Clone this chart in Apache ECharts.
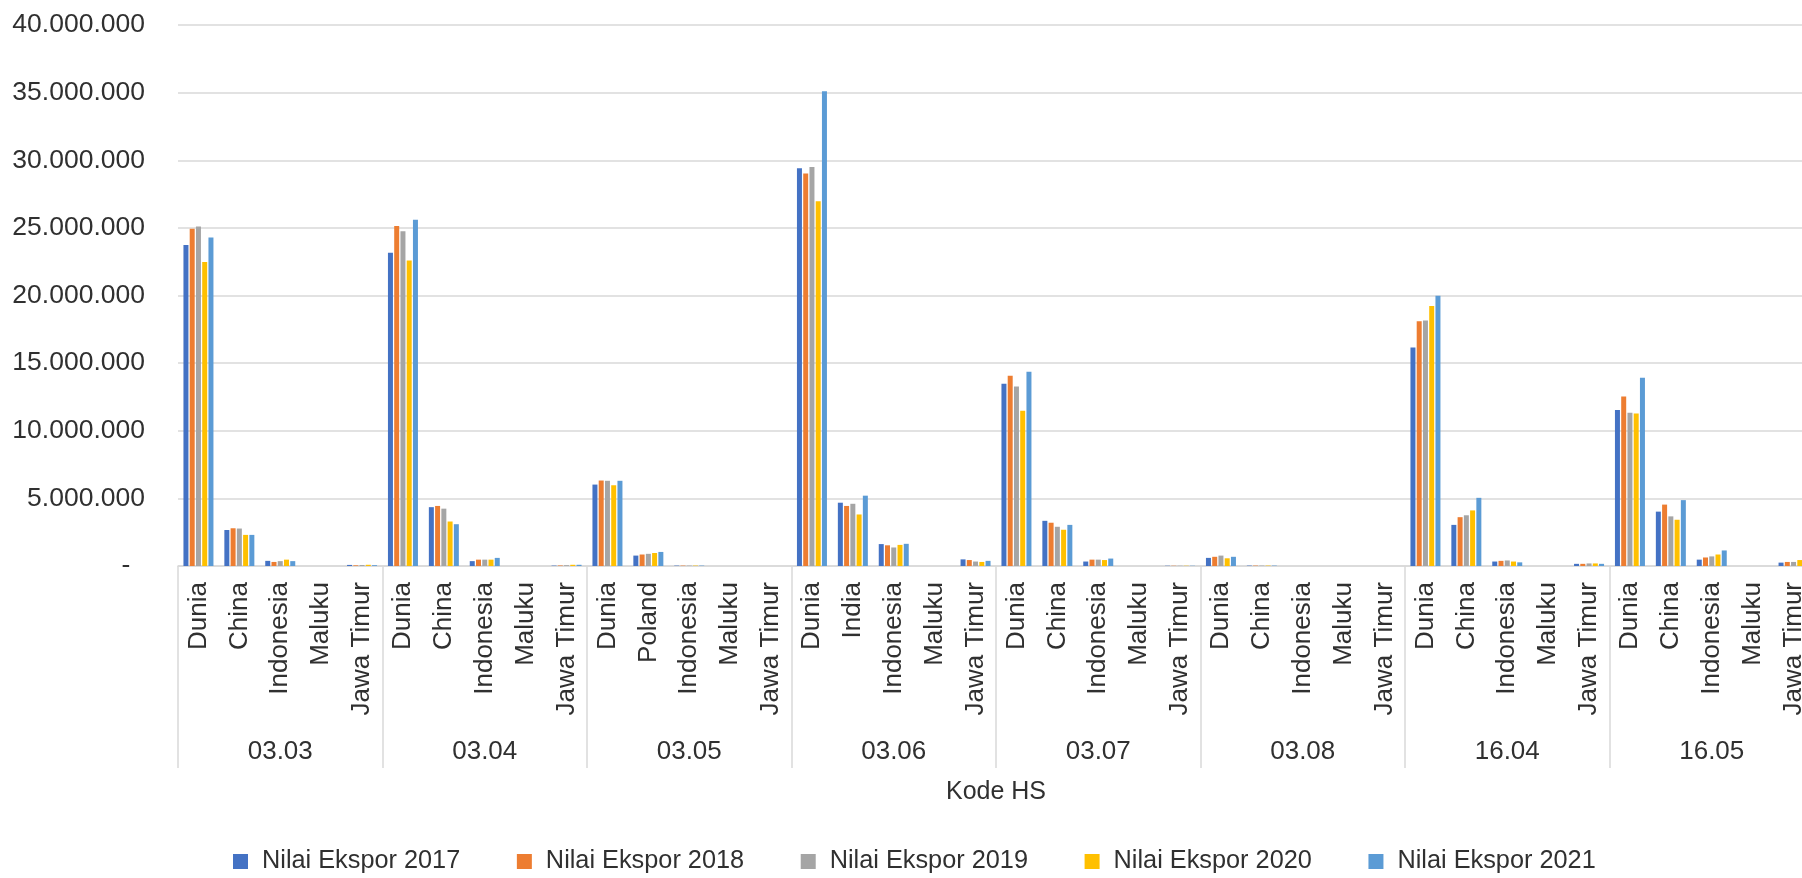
<!DOCTYPE html>
<html><head><meta charset="utf-8">
<script src="https://cdn.jsdelivr.net/npm/echarts@6/dist/echarts.min.js"></script>
<style>html,body{margin:0;padding:0;background:#fff;overflow:hidden;width:1802px;height:878px}#c{width:1830px;height:878px}</style>
</head><body><div id="c"></div>
<script>
const groups = ['03.03','03.04','03.05','03.06','03.07','03.08','16.04','16.05'];
const categories = [
  'Dunia','China','Indonesia','Maluku','Jawa Timur',
  'Dunia','China','Indonesia','Maluku','Jawa Timur',
  'Dunia','Poland','Indonesia','Maluku','Jawa Timur',
  'Dunia','India','Indonesia','Maluku','Jawa Timur',
  'Dunia','China','Indonesia','Maluku','Jawa Timur',
  'Dunia','China','Indonesia','Maluku','Jawa Timur',
  'Dunia','China','Indonesia','Maluku','Jawa Timur',
  'Dunia','China','Indonesia','Maluku','Jawa Timur'
];
const seriesNames = ['Nilai Ekspor 2017','Nilai Ekspor 2018','Nilai Ekspor 2019','Nilai Ekspor 2020','Nilai Ekspor 2021'];
const yTicks = [0,5000000,10000000,15000000,20000000,25000000,30000000,35000000,40000000];
const v2017 = [
  23740000,2660000,380000,0,80000,
  23160000,4350000,360000,0,30000,
  6020000,770000,30000,0,0,
  29400000,4680000,1620000,0,490000,
  13470000,3340000,330000,0,20000,
  600000,30000,0,0,0,
  16150000,3040000,330000,0,160000,
  11530000,4020000,470000,0,250000
];
const v2018 = [
  24940000,2790000,300000,0,50000,
  25130000,4440000,470000,0,40000,
  6320000,850000,30000,0,0,
  29020000,4440000,1530000,0,440000,
  14070000,3200000,470000,0,20000,
  680000,30000,0,0,0,
  18100000,3610000,380000,0,160000,
  12540000,4540000,630000,0,300000
];
const v2019 = [
  25100000,2770000,360000,0,70000,
  24750000,4240000,470000,0,60000,
  6300000,900000,30000,0,0,
  29510000,4600000,1370000,0,330000,
  13280000,2900000,470000,0,20000,
  770000,30000,0,0,0,
  18150000,3750000,410000,0,190000,
  11330000,3670000,710000,0,300000
];
const v2020 = [
  22480000,2300000,470000,0,90000,
  22590000,3290000,470000,0,90000,
  5970000,960000,30000,0,0,
  26970000,3810000,1560000,0,300000,
  11470000,2680000,440000,0,20000,
  570000,30000,0,0,0,
  19220000,4110000,330000,0,190000,
  11280000,3420000,850000,0,440000
];
const v2021 = [
  24280000,2300000,360000,0,60000,
  25600000,3090000,600000,0,90000,
  6300000,1040000,30000,0,0,
  35100000,5200000,1640000,0,380000,
  14370000,3040000,550000,0,20000,
  680000,30000,0,0,0,
  19990000,5040000,270000,0,160000,
  13910000,4870000,1150000,0,550000
];
const colors = ['#4472C4','#ED7D31','#A5A5A5','#FFC000','#5B9BD5'];
const values = [v2017,v2018,v2019,v2020,v2021];

const txt = '#303030';
const fontFamily = '"Liberation Sans", Arial, sans-serif';
function fmt(v){ return v === 0 ? '-  ' : String(v).replace(/\B(?=(\d{3})+(?!\d))/g,'.'); }

const chart = echarts.init(document.getElementById('c'), null, {renderer:'canvas'});
chart.setOption({
  animation:false,
  color: colors,
  textStyle:{fontFamily:fontFamily, color:txt},
  grid:{left:178, top:25, right:16, height:541, containLabel:false},
  legend:{
    data: seriesNames, left:228, top:844, icon:'rect', itemWidth:15, itemHeight:15,
    itemGap:56.6, textStyle:{fontSize:25.3, color:txt, fontFamily:fontFamily, padding:[0,0,0,9]}
  },
  xAxis:[
    {type:'category', data:categories, position:'bottom',
     axisLine:{show:true, lineStyle:{color:'#d9d9d9', width:1.5}},
     axisTick:{show:false},
     axisLabel:{interval:0, rotate:90, margin:16, fontSize:26, color:txt, fontFamily:fontFamily}
    },
    {type:'category', data:groups, position:'bottom', gridIndex:0,
     axisLine:{show:false},
     axisTick:{show:true, interval:0, length:202, lineStyle:{color:'#d9d9d9', width:1.5}},
     axisLabel:{interval:0, margin:173, fontSize:26, color:txt, fontFamily:fontFamily}
    }
  ],
  yAxis:{type:'value', min:yTicks[0], max:yTicks[yTicks.length-1], interval:yTicks[1]-yTicks[0],
    axisLine:{show:false}, axisTick:{show:false},
    splitLine:{lineStyle:{color:'#d9d9d9', width:1.5}},
    axisLabel:{formatter:fmt, margin:33, fontSize:26.5, color:txt, fontFamily:fontFamily}
  },
  graphic:[{type:'text', x:996, y:792, style:{text:'Kode HS', fill:txt, font:'25px '+fontFamily, textAlign:'center', textVerticalAlign:'middle'}}],
  series: seriesNames.map((n,i)=>({
    name:n, type:'bar', xAxisIndex:0, data:values[i], barWidth:5, barGap:'25%',
    itemStyle:{color:colors[i]}
  }))
});
</script></body></html>
